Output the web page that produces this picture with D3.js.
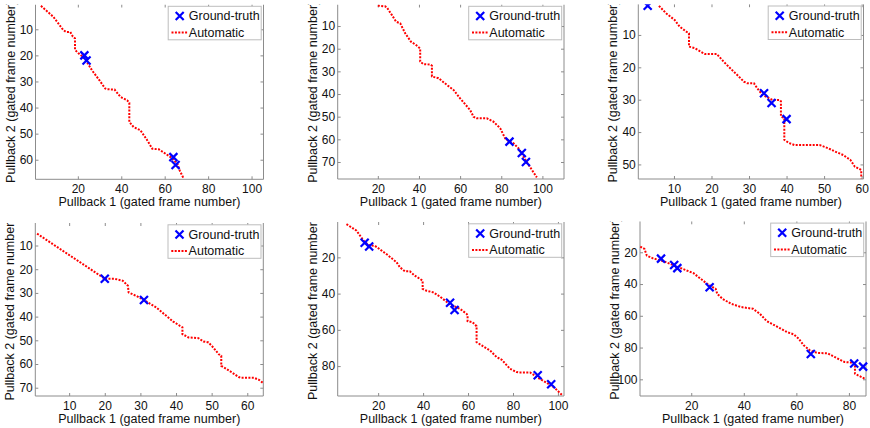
<!DOCTYPE html>
<html>
<head>
<meta charset="utf-8">
<script src="https://cdn.jsdelivr.net/npm/d3@7"></script>
<style>
  * { margin: 0; padding: 0; }
  body { background: #fff; }
  svg { display: block; font-family: "Liberation Sans", Arial, sans-serif; }
</style>
</head>
<body>
<svg id="fig" width="870" height="428"></svg>
<script>
// ---- data: [pullback1 frame, pullback2 frame] ----
var auto1 = [[3,1],[8.7,5.2],[13.3,10.3],[14.5,11],[16.5,11],[17.7,12.8],[18.7,13.5],[18.7,17.9],[20.3,19.2],[23,21],[26.5,25.7],[29.9,29.5],[32.6,32.7],[33.5,33],[36.9,33.1],[39.6,35.9],[42.7,37.2],[43.7,38.2],[43.7,45.5],[45.7,47.5],[48.8,48.7],[52,52.6],[54.3,55.8],[57.3,56],[60.4,57.7],[62.7,59],[65.8,61.5],[66.9,64.1],[68.6,67]];
var truth1 = [[23,20],[24,22],[64,59],[65,62]];
var xTicks1 = [20,40,60,80,100];
var yTicks1 = [10,20,30,40,50,60];
var xLim1 = [0.5,105.5], yLim1 = [0.5,67.5];

var auto2 = [[20,1],[23.5,1.3],[24.4,1.8],[26.8,5.1],[28.9,8.1],[30.9,8.8],[33.3,13.2],[36.1,16.9],[38.6,18.4],[40.6,19.9],[40.6,25.7],[42.2,26.8],[45.5,27],[46.3,27.5],[46.3,32.3],[49.5,33],[53.6,36],[56.8,38.2],[60,41.9],[64.9,47.1],[66.5,50],[68,50.7],[73,50.7],[76.2,52.2],[79.5,55.1],[81.9,59.6],[84,61],[86,61.8],[88.4,64],[90.8,67.6],[92.8,70.6],[94.9,73.5],[97.3,76.8]];
var truth2 = [[84,61],[90,66],[92,70]];
var xTicks2 = [20,40,60,80,100];
var yTicks2 = [10,20,30,40,50,60,70];
var xLim2 = [0.5,110.5], yLim2 = [0.5,77.5];

var auto3 = [[6,1],[7.9,3.3],[10.2,5.4],[11.5,7.4],[13.3,9],[14,9.5],[14,13.6],[15.6,14.1],[17.8,15.6],[18.3,15.9],[21.4,15.9],[23.2,18.2],[25,20.3],[26.8,22.3],[28.6,24.4],[29.5,24.9],[31.3,24.9],[32.2,26.5],[33.6,28.5],[36.3,30.1],[38.2,30.1],[38.5,30.5],[38.5,35.2],[39.4,35.7],[39.4,42.4],[40.7,43.4],[42.1,44],[48.8,44],[51.1,45],[52.9,46],[55.1,47.1],[57,48.6],[58.2,50.7],[59.9,51.7],[59.9,54.3]];
var truth3 = [[3,1],[34,28],[36,31],[40,36]];
var xTicks3 = [10,20,30,40,50,60];
var yTicks3 = [10,20,30,40,50];
var xLim3 = [0.5,60.5], yLim3 = [0.5,54.5];

var auto4 = [[1,5],[20,24],[22.7,24],[25.1,24.9],[26.5,27],[26.7,29.8],[28.9,31.3],[31,33],[34.5,36.2],[39.2,42.1],[41.1,43.9],[41.8,44.5],[41.8,47.4],[43.5,48.8],[46.3,49.1],[47.7,50.5],[49.1,50.9],[50.5,53.1],[52,55.9],[52.7,56.5],[52.7,60.8],[54.3,62.2],[57.6,65.5],[58.1,65.8],[61.9,65.8],[63.3,66.7],[64.5,68.1]];
var truth4 = [[20,24],[31,33]];
var xTicks4 = [10,20,30,40,50,60];
var yTicks4 = [10,20,30,40,50,60,70];
var xLim4 = [0.5,64.5], yLim4 = [0.5,73.5];

var auto5 = [[5.9,1.7],[10.4,5.3],[12.5,9],[14.1,11.7],[16,13.3],[18.5,13.6],[23.7,18.2],[28.2,22.7],[29.7,25.5],[31.9,27.7],[34.1,27.7],[36.3,30.1],[38.6,31.9],[39.8,32.9],[39.8,37.4],[41.5,38.4],[44.5,39.3],[47.5,41.7],[52,46],[56.4,48.4],[59.4,51.2],[59.8,52],[59.8,55.2],[62,55.8],[63.5,57.6],[63.8,58],[63.8,66.8],[66.1,68.6],[69.8,71.4],[72.7,75],[75,76.5],[78.7,81.5],[81.6,83.3],[82.5,83.5],[87.6,83.5],[91.9,87],[95,89.2],[98.5,92],[102.1,96.3]];
var truth5 = [[14,12],[16,14],[52,45],[54,49],[91,85],[97,90]];
var xTicks5 = [20,40,60,80,100];
var yTicks5 = [20,40,60,80];
var xLim5 = [2,102.7], yLim5 = [0.5,96.5];

var auto6 = [[0.6,16.4],[2.2,17.9],[3.1,22.1],[5.4,23.8],[9.9,25.9],[17.7,31.1],[20.9,33.2],[22.8,35.7],[26.1,39.9],[29.3,43],[29.9,46.2],[31.9,49.3],[35.1,52.4],[39,54.5],[43.5,55.6],[46.1,58.7],[48.7,63.3],[52.5,66.7],[56.4,70.2],[59,71.7],[60.9,74.4],[62.8,78.6],[65.2,81.8],[68,83.4],[71.9,83.6],[74.5,85.9],[78.3,89.1],[81.6,89.5],[82.3,90.5],[82.3,96.4],[83.5,97.5],[86,99.6]];
var truth6 = [[8.5,24],[13.5,28],[14.7,30],[27,42],[65.5,84],[82,90],[85.4,92]];
var xTicks6 = [20,40,60,80];
var yTicks6 = [20,40,60,80,100];
var xLim6 = [0.5,86.5], yLim6 = [0.5,110.5];

var legendLabels = ["Ground-truth", "Automatic"];
var xTitle = "Pullback 1 (gated frame number)";
var yTitle = "Pullback 2 (gated frame number)";

// ---- layout of the six sub-images (pixel boxes: left, right, top, bottom) ----
var panels = [
    { auto: auto1, truth: truth1, xt: xTicks1, yt: yTicks1, xl: xLim1, yl: yLim1, box: [35.5, 263.5, 4.5, 179.3], cell: [0, 290] },
    { auto: auto2, truth: truth2, xt: xTicks2, yt: yTicks2, xl: xLim2, yl: yLim2, box: [337.7, 564, 4.5, 179], cell: [290, 580] },
    { auto: auto3, truth: truth3, xt: xTicks3, yt: yTicks3, xl: xLim3, yl: yLim3, box: [638.3, 863.5, 4.2, 179], cell: [580, 870] },
    { auto: auto4, truth: truth4, xt: xTicks4, yt: yTicks4, xl: xLim4, yl: yLim4, box: [35.3, 263.3, 223, 396], cell: [0, 290] },
    { auto: auto5, truth: truth5, xt: xTicks5, yt: yTicks5, xl: xLim5, yl: yLim5, box: [337.7, 564, 222, 396], cell: [290, 580] },
    { auto: auto6, truth: truth6, xt: xTicks6, yt: yTicks6, xl: xLim6, yl: yLim6, box: [640, 866, 221.3, 396], cell: [580, 870] }
];

var axisGrey = "#8c8c8c";
var xMark = "M-4,-4L4,4M-4,4L4,-4";
var svg = d3.select("#fig");

function styleAxis(g, labels) {
    g.attr("font-family", null).attr("font-size", 12);
    g.select(".domain").remove();
    g.selectAll(".tick line").attr("stroke", axisGrey);
    g.selectAll(".tick text").attr("fill", "#111");
    if (!labels) g.selectAll(".tick text").remove();
}

panels.forEach(function (p, i) {
    var L = p.box[0], R = p.box[1], T = p.box[2], B = p.box[3];
    var x = d3.scaleLinear().domain(p.xl).range([L, R]);
    var y = d3.scaleLinear().domain(p.yl).range([T, B]);

    svg.append("clipPath").attr("id", "clip" + i)
        .append("rect")
        .attr("x", p.cell[0]).attr("y", T)
        .attr("width", p.cell[1] - p.cell[0]).attr("height", 428 - T);

    var g = svg.append("g").attr("clip-path", "url(#clip" + i + ")");

    // axes box (the top edge falls on the crop line)
    g.append("path")
        .attr("d", "M" + L + "," + T + "V" + B + "H" + R + "V" + T)
        .attr("fill", "none").attr("stroke", axisGrey).attr("stroke-width", 1);

    g.append("g").attr("transform", "translate(0," + B + ")")
        .call(d3.axisBottom(x).tickValues(p.xt).tickSizeInner(-3).tickSizeOuter(0).tickPadding(5))
        .call(styleAxis, true);
    g.append("g").attr("transform", "translate(0," + T + ")")
        .call(d3.axisTop(x).tickValues(p.xt).tickSizeInner(-3).tickSizeOuter(0))
        .call(styleAxis, false);
    g.append("g").attr("transform", "translate(" + L + ",0)")
        .call(d3.axisLeft(y).tickValues(p.yt).tickSizeInner(-3).tickSizeOuter(0).tickPadding(2.5))
        .call(styleAxis, true);
    g.append("g").attr("transform", "translate(" + R + ",0)")
        .call(d3.axisRight(y).tickValues(p.yt).tickSizeInner(-3).tickSizeOuter(0))
        .call(styleAxis, false);

    // titles
    g.append("text")
        .attr("x", (L + R) / 2).attr("y", B + 26.5)
        .attr("text-anchor", "middle").attr("font-size", 12.5).attr("fill", "#111")
        .text(xTitle);
    g.append("text")
        .attr("transform", "translate(" + (L - 21) + "," + ((T + B) / 2) + ") rotate(-90)")
        .attr("text-anchor", "middle").attr("font-size", 12.5).attr("fill", "#111")
        .text(yTitle);

    // automatic path
    var line = d3.line().x(function (d) { return x(d[0]); }).y(function (d) { return y(d[1]); });
    g.append("path")
        .datum(p.auto)
        .attr("d", line)
        .attr("fill", "none")
        .attr("stroke", "#ff0000")
        .attr("stroke-width", 2)
        .attr("stroke-dasharray", "2,1.4");

    // ground truth
    g.selectAll(".gt")
        .data(p.truth)
        .enter()
        .append("path")
        .attr("transform", function (d) { return "translate(" + x(d[0]) + "," + y(d[1]) + ")"; })
        .attr("d", xMark)
        .attr("fill", "none")
        .attr("stroke", "#0000ff")
        .attr("stroke-width", 2.2);

    // legend
    var lw = 93, lh = 33.5;
    var lx = R - 2.3 - lw, ly = T + 1.8;
    var lg = g.append("g").attr("transform", "translate(" + lx + "," + ly + ")");
    lg.append("rect").attr("width", lw).attr("height", lh)
        .attr("fill", "#fff").attr("stroke", "#bdbdbd").attr("stroke-width", 1);
    lg.append("path").attr("transform", "translate(11.5,9.7)").attr("d", xMark)
        .attr("fill", "none").attr("stroke", "#0000ff").attr("stroke-width", 2.2);
    lg.append("line").attr("x1", 3.3).attr("x2", 19).attr("y1", 26.3).attr("y2", 26.3)
        .attr("stroke", "#ff0000").attr("stroke-width", 2).attr("stroke-dasharray", "2,1.4");
    lg.selectAll(".lt")
        .data(legendLabels)
        .enter()
        .append("text")
        .attr("x", 20.6)
        .attr("y", function (d, k) { return k == 0 ? 14 : 30.7; })
        .attr("font-size", 12.5).attr("fill", "#111")
        .text(function (d) { return d; });
});
</script>
</body>
</html>
